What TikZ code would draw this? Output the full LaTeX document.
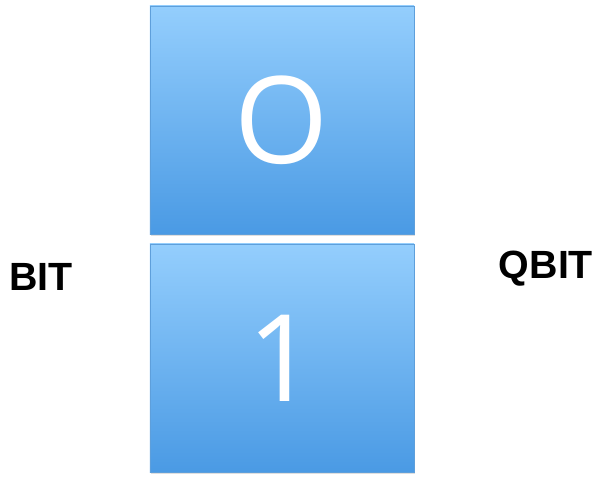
\documentclass[tikz,border=0pt]{standalone}
\usepackage{fontspec}
\setmainfont{Liberation Sans}
\newfontfamily\digitfont{Open Sans}
\usepackage{xcolor}
\usetikzlibrary{shadows}

\definecolor{celltop}{HTML}{94CEFD}
\definecolor{cellbottom}{HTML}{4A9AE4}
\definecolor{celledge}{HTML}{5E9FDB}

\tikzset{
	cell/.style={draw=celledge, line width=0.6pt, top color=celltop, bottom color=cellbottom,
		minimum width=6.6cm, minimum height=5.7cm, inner sep=0pt, text=white,
		font=\digitfont\fontsize{86}{86}\selectfont,
		drop shadow={opacity=0.25, shadow xshift=0.6pt, shadow yshift=-1.2pt}},
	label/.style={font=\bfseries\fontsize{28}{28}\selectfont, text=black}
}

\begin{document}
\begin{tikzpicture}[x=0.025cm, y=-0.025cm]
		
		% Page frame (600 x 476 px)
		\useasboundingbox (0,0) rectangle (600,476);
		
		% The two states
		\node[cell] (zero) at (282,120) {O};
		\node[cell] (one)  at (282,358) {1};
		
		% Side labels
		\node[label] (bit)  at (41,277)  {BIT};
		\node[label] (qbit) at (546,269) {QBIT};
		
	\end{tikzpicture}
\end{document}
